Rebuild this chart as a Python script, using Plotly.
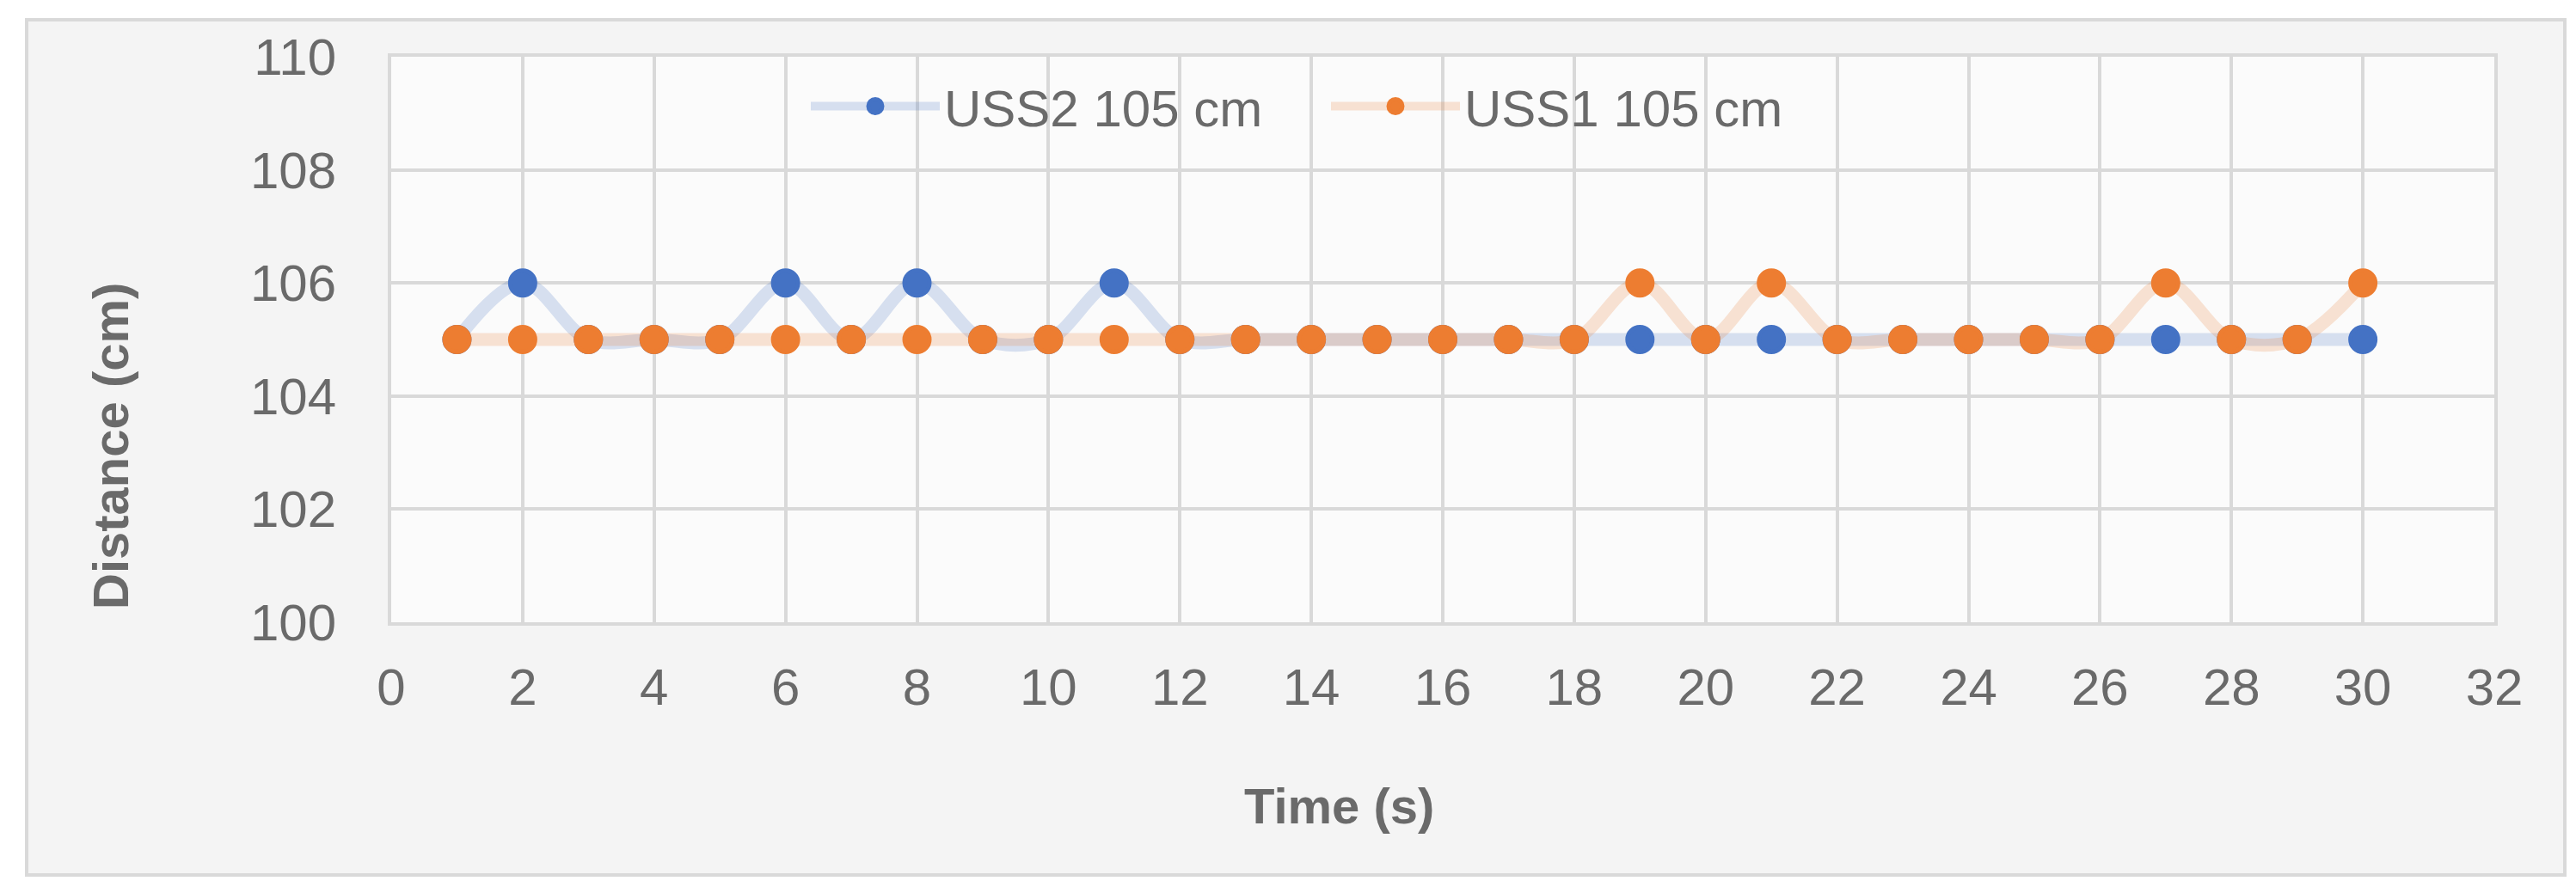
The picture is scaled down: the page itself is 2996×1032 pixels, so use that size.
import plotly.graph_objects as go

# ---- data ----
time_s = list(range(1, 31))
uss2_105 = [105, 106, 105, 105, 105, 106, 105, 106, 105, 105,
            106, 105, 105, 105, 105, 105, 105, 105, 105, 105,
            105, 105, 105, 105, 105, 105, 105, 105, 105, 105]
uss1_105 = [105, 105, 105, 105, 105, 105, 105, 105, 105, 105,
            105, 105, 105, 105, 105, 105, 105, 105, 106, 105,
            106, 105, 105, 105, 105, 105, 106, 105, 105, 106]
series_names = ["USS2 105 cm", "USS1 105 cm"]
x_ticks = list(range(0, 33, 2))
y_ticks = list(range(100, 111, 2))

W, H = 2996, 1032
L, R, T, B = 447, 2996 - 2893, 58, 1032 - 716
PW, PH = W - L - R, H - T - B

FONT = "Liberation Sans, Arial, sans-serif"
TXT = "#6a6a6a"
GRID = "#d9d9d9"

fig = go.Figure()
fig.add_trace(go.Scatter(
    x=time_s, y=uss2_105, name=series_names[0], mode="lines+markers",
    line=dict(color="rgba(68,114,196,0.2)", width=15, shape="spline"),
    marker=dict(color="#4472C4", size=29, line=dict(color="#4472C4", width=5)),
))
fig.add_trace(go.Scatter(
    x=time_s, y=uss1_105, name=series_names[1], mode="lines+markers",
    line=dict(color="rgba(237,125,49,0.2)", width=15, shape="spline"),
    marker=dict(color="#ED7D31", size=29, line=dict(color="#ED7D31", width=5)),
))

def px_x(p):
    return (p - L) / PW

def px_y(p):
    return (H - B - p) / PH

fig.update_layout(
    width=W, height=H,
    margin=dict(l=L, r=R, t=T, b=B, pad=0),
    paper_bgcolor="white",
    plot_bgcolor="#fafafa",
    font=dict(family=FONT, size=60, color=TXT),
    showlegend=True,
    legend=dict(
        orientation="h", x=px_x(930), y=px_y(70), xanchor="left", yanchor="top",
        bgcolor="rgba(0,0,0,0)", font=dict(size=60, color=TXT),
        itemwidth=150, itemsizing="trace", tracegroupgap=0,
        entrywidth=440, entrywidthmode="pixels",
    ),
    xaxis=dict(
        range=[0, 32], tickvals=x_ticks, ticktext=[str(v) for v in x_ticks],
        showgrid=True, gridcolor=GRID, gridwidth=4,
        showline=True, linecolor=GRID, linewidth=4, mirror=True,
        zeroline=False, ticks="", ticklabelstandoff=20,
        tickfont=dict(size=60, color=TXT),
    ),
    yaxis=dict(
        range=[100, 110], tickvals=y_ticks, ticktext=[str(v) for v in y_ticks],
        showgrid=True, gridcolor=GRID, gridwidth=4,
        showline=True, linecolor=GRID, linewidth=4, mirror=True,
        zeroline=False, ticks="", ticklabelstandoff=48,
        tickfont=dict(size=60, color=TXT),
    ),
    shapes=[
        dict(type="rect", xref="paper", yref="paper", layer="below",
             x0=px_x(23), x1=px_x(2975), y0=px_y(1010), y1=px_y(15),
             fillcolor="#f4f4f4", line=dict(color=GRID, width=4)),
        dict(type="rect", xref="x domain", yref="y domain", layer="below",
             x0=0, x1=1, y0=0, y1=1, fillcolor="#fbfbfb", line=dict(width=0)),
    ],
    annotations=[
        dict(text="<b>Time (s)</b>", xref="paper", yref="paper",
             x=px_x(1549), y=px_y(929), xanchor="center", yanchor="middle",
             showarrow=False, font=dict(size=58, color=TXT, family=FONT)),
        dict(text="<b>Distance (cm)</b>", xref="paper", yref="paper",
             x=px_x(120), y=px_y(511), xanchor="center", yanchor="middle",
             textangle=-90, showarrow=False,
             font=dict(size=58, color=TXT, family=FONT)),
    ],
)

fig.write_html("out.html")
